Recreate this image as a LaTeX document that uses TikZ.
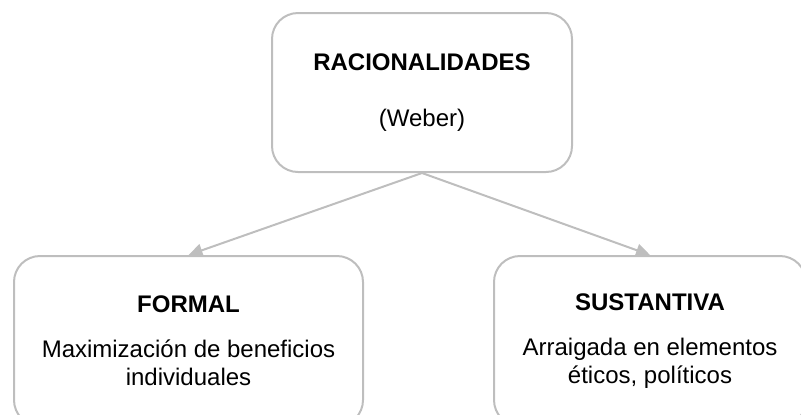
\documentclass[tikz,border=0pt]{standalone}
\usepackage{fontspec}
\setmainfont{Liberation Sans}
\usepackage{tikz}
\usetikzlibrary{positioning, arrows.meta}
\definecolor{gris}{RGB}{190,190,190}
\tikzstyle{caja}=[rectangle, rounded corners=13pt, draw=gris, line width=1pt, align=center, font=\fontsize{12}{14}\selectfont]
\tikzstyle{flecha}=[draw=gris, line width=1pt, -{Triangle[length=7pt, width=6.5pt]}]

\begin{document}
\begin{tikzpicture}[x=0.5pt, y=-0.5pt, node distance=41pt]
                \useasboundingbox (0,0) rectangle (801,414);
                \clip (0,0) rectangle (801,414);
                % Nodos
                \node[caja, minimum width=150pt, minimum height=79.5pt] (racional) at (422,92.5)
                    {\textbf{RACIONALIDADES}\\[14pt](Weber)};
                \node[caja, minimum width=174.5pt, minimum height=85pt, below=of racional, xshift=-116.75pt] (formal)
                    {\textbf{FORMAL}\\[8.5pt]Maximización de beneficios\\individuales};
                \node[caja, minimum width=156pt, minimum height=85pt, below=of racional, xshift=114pt] (sustantiva)
                    {\textbf{SUSTANTIVA}\\[8.5pt]Arraigada en elementos\\éticos, políticos};

                % Flechas
                \draw[flecha] (racional.south) -- (formal.north);
                \draw[flecha] (racional.south) -- (sustantiva.north);
            \end{tikzpicture}
\end{document}
